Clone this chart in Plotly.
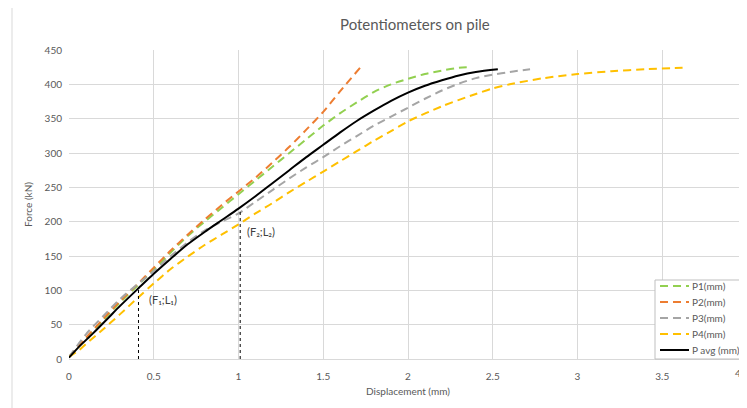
import plotly.graph_objects as go

# ---- data ----
p1_x = [0, 0.1, 0.2, 0.3, 0.4, 0.5, 0.6, 0.7, 0.8, 0.9, 1.0, 1.1, 1.2, 1.3, 1.4, 1.5, 1.6, 1.7, 1.8, 1.9, 2.0, 2.1, 2.2, 2.3, 2.36]
p1_y = [3, 30, 56, 82, 106, 130, 155, 179, 200, 220, 240, 260, 280, 300, 320, 340, 358, 374, 389, 400, 408, 415, 420, 424, 425]

p2_x = [0, 0.1, 0.2, 0.3, 0.4, 0.5, 0.6, 0.7, 0.8, 0.9, 1.0, 1.1, 1.2, 1.3, 1.4, 1.5, 1.6, 1.72]
p2_y = [3, 31, 58, 84, 108, 133, 158, 181, 203, 224, 244, 264, 286, 309, 334, 360, 390, 425]

p3_x = [0, 0.1, 0.2, 0.3, 0.4, 0.5, 0.6, 0.7, 0.8, 0.9, 1.0, 1.1, 1.2, 1.3, 1.4, 1.5, 1.6, 1.7, 1.8, 1.9, 2.0, 2.1, 2.2, 2.3, 2.4, 2.5, 2.6, 2.72]
p3_y = [3, 36, 62, 87, 108, 128, 150, 170, 187, 200, 212, 229, 246, 263, 279, 294, 310, 325, 340, 353, 366, 379, 391, 401, 409, 414, 418, 422]

p4_x = [0, 0.06, 0.1, 0.2, 0.3, 0.41, 0.5, 0.6, 0.7, 0.8, 0.9, 1.0, 1.1, 1.2, 1.3, 1.4, 1.5, 1.6, 1.7, 1.8, 1.9, 2.0, 2.2, 2.4, 2.5, 2.6, 2.8, 3.0, 3.2, 3.4, 3.62]
p4_y = [3, 13, 22, 43, 65, 90, 110, 131, 149, 166, 181, 196, 212, 227, 243, 258, 273, 288, 303, 318, 332, 346, 368, 386, 394, 400, 409, 415, 419, 422, 424]

pavg_x = [0, 0.06, 0.14, 0.24, 0.3, 0.41, 0.5, 0.6, 0.7, 0.8, 0.9, 1.0, 1.1, 1.2, 1.3, 1.4, 1.5, 1.6, 1.7, 1.8, 1.9, 2.0, 2.1, 2.2, 2.3, 2.4, 2.53]
pavg_y = [2, 18, 37, 62, 77, 103, 124, 146, 167, 185, 202, 219, 237, 256, 275, 294, 312, 330, 347, 362, 376, 388, 398, 406, 413, 418, 422]

# reference points (F1;L1), (F2;L2)
ref_x = [0.41, 1.01]
ref_y = [103, 217]
ref_labels = ["(F₁;L₁)", "(F₂;L₂)"]
label_pos_x = [0.46, 1.04]
label_pos_y = [86, 186]

# axis ticks
x_ticks = [0, 0.5, 1, 1.5, 2, 2.5, 3, 3.5, 4]
x_tick_labels = ["0", "0.5", "1", "1.5", "2", "2.5", "3", "3.5", "4"]

names = ["P1(mm)", "P2(mm)", "P3(mm)", "P4(mm)", "P avg (mm)"]
xs_all = [p1_x, p2_x, p3_x, p4_x, pavg_x]
ys_all = [p1_y, p2_y, p3_y, p4_y, pavg_y]
colors = ["#92d050", "#ed7d31", "#a5a5a5", "#ffc000", "#000000"]
dashes = ["8px,5px", "8px,5px", "8px,5px", "8px,5px", "solid"]

FONT = "Lato, Noto Sans, sans-serif"
GRAY = "#595959"

# The page body has an 8px margin; compensate so the plot lands where the reference has it.
OFF = 8
PAGE_W, PAGE_H = 747, 408
W, H = PAGE_W - OFF, PAGE_H - OFF
# plot area in page pixels: x 69..747, y 50..359
PL, PR, PT, PB = 69, 747, 50, 359
ML, MT = PL - OFF, PT - OFF
MR = W - (PR - OFF)
MB = H - (PB - OFF)
PW, PH = PR - PL, PB - PT


def px_to_paper_x(px):
    return (px - PL) / PW


def py_to_paper_y(py):
    return (PB - py) / PH


fig = go.Figure()
for name, xs, ys, col, dash in zip(names, xs_all, ys_all, colors, dashes):
    fig.add_trace(go.Scatter(x=xs, y=ys, mode="lines", name=name, showlegend=False,
                             line=dict(color=col, dash=dash, width=2, shape="spline", smoothing=0.8)))

for rx, ry in zip(ref_x, ref_y):
    fig.add_trace(go.Scatter(x=[rx, rx], y=[0, ry], mode="lines", showlegend=False,
                             line=dict(color="#000000", dash="3px,3px", width=1), hoverinfo="skip"))

for lx, ly, txt in zip(label_pos_x, label_pos_y, ref_labels):
    fig.add_annotation(x=lx, y=ly, text=txt, showarrow=False, xanchor="left", yanchor="middle",
                       font=dict(family=FONT, size=11, color="#404040"))

# last x tick label sits at the very edge of the window: right-align it so it stays visible
shown_tick_text = x_tick_labels[:-1] + [""]
fig.add_annotation(x=px_to_paper_x(743), xref="paper", y=py_to_paper_y(373), yref="paper",
                   text=x_tick_labels[-1], showarrow=False, xanchor="right", yanchor="middle",
                   font=dict(family=FONT, size=10, color=GRAY))

# legend box (drawn manually so it fits like the reference)
fig.add_shape(type="rect", xref="paper", yref="paper",
              x0=px_to_paper_x(655), x1=px_to_paper_x(752),
              y0=py_to_paper_y(359), y1=py_to_paper_y(280),
              line=dict(color="#bfbfbf", width=1), fillcolor="white", layer="above")
row_py = [286, 302, 318, 334, 350]
for name, col, dash, py in zip(names, colors, dashes, row_py):
    fig.add_shape(type="line", xref="paper", yref="paper",
                  x0=px_to_paper_x(660), x1=px_to_paper_x(689),
                  y0=py_to_paper_y(py), y1=py_to_paper_y(py),
                  line=dict(color=col, width=2, dash=dash), layer="above")
    fig.add_annotation(xref="paper", yref="paper", x=px_to_paper_x(690), y=py_to_paper_y(py),
                       text=name, showarrow=False, xanchor="left", yanchor="middle",
                       font=dict(family=FONT, size=10, color=GRAY))

# chart outer border (Excel chart area)
fig.add_shape(type="rect", xref="paper", yref="paper",
              x0=px_to_paper_x(12), x1=px_to_paper_x(770),
              y0=py_to_paper_y(430), y1=py_to_paper_y(7),
              line=dict(color="#d9d9d9", width=1), layer="below")

fig.update_layout(
    width=W, height=H,
    margin=dict(l=ML, r=MR, t=MT, b=MB, pad=0),
    paper_bgcolor="white", plot_bgcolor="white",
    font=dict(family=FONT, size=10, color=GRAY),
    title=dict(text="Potentiometers on pile", x=(385 - OFF) / W, xref="paper", xanchor="center",
               y=1 - (25 - OFF) / H, yanchor="middle",
               font=dict(family=FONT, size=15, color=GRAY)),
    xaxis=dict(range=[0, 4], tickmode="array", tickvals=x_ticks, ticktext=shown_tick_text,
               showgrid=True, gridcolor="#d9d9d9", gridwidth=1,
               zeroline=False, showline=True, linecolor="#d9d9d9", ticks="", automargin=False,
               tickfont=dict(size=10, color=GRAY), ticklabelstandoff=8,
               title=dict(text="Displacement (mm)", font=dict(size=10, color=GRAY), standoff=6)),
    yaxis=dict(range=[0, 450], dtick=50, showgrid=True, gridcolor="#d9d9d9", gridwidth=1,
               zeroline=False, showline=False, ticks="", automargin=False,
               tickfont=dict(size=10, color=GRAY), ticklabelstandoff=6,
               title=dict(text="Force (kN)", font=dict(size=10, color=GRAY), standoff=10)),
    showlegend=False,
)

fig.write_html("out.html")
